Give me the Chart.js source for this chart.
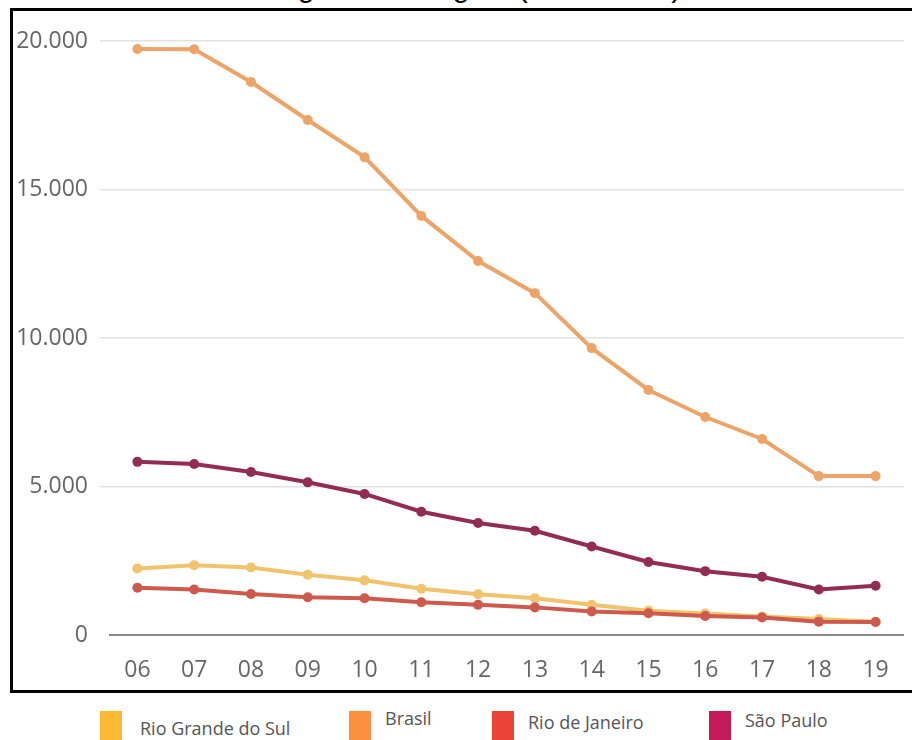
<!DOCTYPE html>
<html>
<head>
<meta charset="utf-8">
<script src="https://cdn.jsdelivr.net/npm/chart.js@4"></script>
<style>
  html, body { margin: 0; padding: 0; background: #fff; overflow: hidden; }
  body { width: 912px; height: 740px; position: relative; }
  #title { position: absolute; left: 266px; top: -28px; font: 30px/30px "Liberation Sans", Arial, sans-serif; color: #000; white-space: nowrap; }
  #frame { position: absolute; left: 10px; top: 8px; width: 930px; height: 679px; border: 3px solid #000; pointer-events: none; }
  #wrap { position: absolute; left: 0; top: 0; width: 912px; height: 700px; }
  .leg { position: absolute; font: 18px "Open Sans", sans-serif; color: #555; white-space: nowrap; }
  .leg i { position: absolute; left: 0; width: 22px; height: 30px; }
  .leg span { position: absolute; top: 0; }
</style>
</head>
<body>
<div id="title">segundo a Região (2006-2019)</div>
<div id="wrap"><canvas id="c" width="912" height="700"></canvas></div>
<div id="frame"></div>
<div id="legend"></div>
<script>
// years (x axis)
const years = ['06','07','08','09','10','11','12','13','14','15','16','17','18','19'];

// series values
const rioGrandeDoSul = [2240, 2350, 2270, 2030, 1840, 1560, 1370, 1240, 1020, 820, 720, 620, 540, 450];
const brasil = [19730, 19720, 18620, 17340, 16090, 14110, 12590, 11510, 9660, 8250, 7340, 6600, 5350, 5350];
const rioDeJaneiro = [1590, 1530, 1380, 1270, 1240, 1100, 1020, 930, 790, 730, 640, 590, 450, 440];
const saoPaulo = [5830, 5760, 5490, 5140, 4750, 4150, 3770, 3510, 2980, 2460, 2150, 1960, 1530, 1660];

const yTicks = [0, 5000, 10000, 15000, 20000];

const names = ['Rio Grande do Sul', 'Brasil', 'Rio de Janeiro', 'São Paulo'];
const lineColors = ['#f0c36c', '#eda468', '#cd5a4c', '#922c55'];
const boxColors = ['#fcb932', '#fb913f', '#ea4439', '#c41a5a'];
// legend item placement (left, text top)
const legendPos = [[100, 716], [349, 706], [492, 710], [709, 708]];

const series = [rioGrandeDoSul, brasil, rioDeJaneiro, saoPaulo];
const drawOrder = [3, 2, 1, 0];

const fmt = v => String(v).replace(/\B(?=(\d{3})+(?!\d))/g, '.');

new Chart(document.getElementById('c'), {
  type: 'line',
  data: {
    labels: years,
    datasets: series.map((d, i) => ({
      label: names[i],
      data: d,
      borderColor: lineColors[i],
      backgroundColor: lineColors[i],
      pointBackgroundColor: lineColors[i],
      pointBorderWidth: 0,
      pointRadius: 5,
      borderWidth: 4,
      tension: 0,
      order: drawOrder[i]
    }))
  },
  options: {
    responsive: false,
    animation: false,
    layout: { padding: { top: 41, left: 0, right: 8, bottom: 15 } },
    plugins: { legend: { display: false }, tooltip: { enabled: false } },
    scales: {
      x: {
        offset: true,
        grid: { display: false },
        border: { display: false },
        ticks: { color: '#666', padding: 14, font: { family: 'Open Sans', size: 23 } },
        afterFit: s => { s.height = 50; }
      },
      y: {
        min: 0,
        max: 20000,
        afterBuildTicks: s => { s.ticks = yTicks.map(v => ({ value: v })); },
        border: { display: false },
        grid: {
          color: c => c.tick && c.tick.value === 0 ? '#8a8a8a' : '#e2e2e2',
          lineWidth: c => c.tick && c.tick.value === 0 ? 2 : 1.5,
          tickColor: c => c.tick && c.tick.value === 0 ? 'rgba(0,0,0,0)' : '#e2e2e2',
          tickLength: 9
        },
        ticks: { color: '#666', padding: 12, font: { family: 'Open Sans', size: 23 }, callback: v => fmt(v) },
        afterFit: s => { s.width = 109; }
      }
    }
  }
});

// legend drawn from the same names and colours
const leg = document.getElementById('legend');
names.forEach((n, i) => {
  const el = document.createElement('div');
  el.className = 'leg';
  el.style.left = legendPos[i][0] + 'px';
  el.style.top = '711px';
  el.innerHTML = '<i style="background:' + boxColors[i] + '"></i><span style="left:' + (i === 0 ? 40 : 36) + 'px;top:' + (legendPos[i][1] - 711) + 'px">' + n + '</span>';
  leg.appendChild(el);
});
</script>
</body>
</html>
